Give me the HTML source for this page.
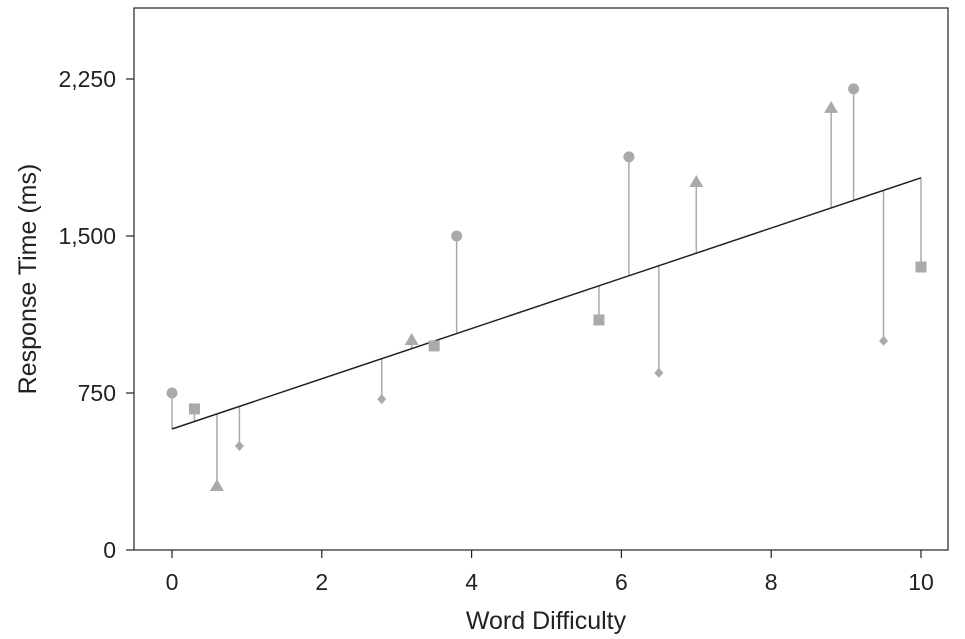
<!DOCTYPE html>
<html><head><meta charset="utf-8"><style>
html,body{margin:0;padding:0;background:#fff;}
svg{display:block;font-family:"Liberation Sans Narrow","Liberation Sans",sans-serif;}
</style></head><body>
<svg id="chart" width="965" height="639" viewBox="0 0 965 639" xmlns="http://www.w3.org/2000/svg">
<rect x="134" y="8" width="814" height="542" fill="none" stroke="#222" stroke-width="1.2"/>
<g id="axes"></g>
<g id="marks"></g>
<text x="546" y="629" font-size="25" text-anchor="middle" fill="#222">Word Difficulty</text>
<text transform="translate(36,279) rotate(-90)" font-size="25" text-anchor="middle" fill="#222">Response Time (ms)</text>
</svg>
<script>
const xs = [0,0.3,0.6,0.9,2.8,3.2,3.5,3.8,5.7,6.1,6.5,7,8.8,9.1,9.5,10];
const ys = [750,674,306,497,721,1003,975,1500,1099,1878,846,1758,2112,2203,999,1352];
const shapes = ["circle","square","triangle","diamond","diamond","triangle","square","circle","square","circle","diamond","triangle","triangle","circle","diamond","square"];
const xTicks = [0,2,4,6,8,10];
const yTicks = [0,750,1500,2250];
const yTickLabels = ["0","750","1,500","2,250"];
const intercept = 578;
const slope = 120;

const NS="http://www.w3.org/2000/svg";
const X=v=>172+v*74.9;
const Y=v=>550-v*0.20933;
const axes=document.getElementById('axes'), marks=document.getElementById('marks');
function mk(tag,attrs,parent){const e=document.createElementNS(NS,tag);for(const k in attrs)e.setAttribute(k,attrs[k]);parent.appendChild(e);return e;}
xTicks.forEach(t=>{
  const l=mk('line',{x1:X(t),x2:X(t),y1:550,y2:558,stroke:'#222','stroke-width':1.2},axes);
  
  
  const tx=mk('text',{x:X(t),y:590,'font-size':23,'text-anchor':'middle',fill:'#222'},axes);
  tx.textContent=t;
  
  
});
yTicks.forEach((t,i)=>{
  const l=mk('line',{x1:126,x2:134,y1:Y(t),y2:Y(t),stroke:'#222','stroke-width':1.2},axes);
  
  
  const tx=mk('text',{x:116,y:Y(t)+8,'font-size':23,'text-anchor':'end',fill:'#222'},axes);
  tx.textContent=yTickLabels[i];
  
  
});
const gray='#aaa';
xs.forEach((x,i)=>{
  const pred=intercept+slope*x;
  const r=mk('line',{x1:X(x),x2:X(x),y1:Y(ys[i]),y2:Y(pred),stroke:gray,'stroke-width':1.5},marks);
  
  
});
const reg=mk('line',{x1:X(0),y1:Y(intercept),x2:X(10),y2:Y(intercept+slope*10),stroke:'#222','stroke-width':1.5},marks);


xs.forEach((x,i)=>{
  const cx=X(x),cy=Y(ys[i]);let m;
  if(shapes[i]==='circle') m=mk('circle',{cx:cx,cy:cy,r:5.5,fill:gray},marks);
  else if(shapes[i]==='square') m=mk('rect',{x:cx-5.5,y:cy-5.5,width:11,height:11,fill:gray},marks);
  else if(shapes[i]==='triangle') m=mk('polygon',{points:`${cx},${cy-7} ${cx-7},${cy+5} ${cx+7},${cy+5}`,fill:gray},marks);
  else m=mk('polygon',{points:`${cx},${cy-5} ${cx+4.5},${cy} ${cx},${cy+5} ${cx-4.5},${cy}`,fill:gray},marks);
  
  
});
</script>
</body></html>
